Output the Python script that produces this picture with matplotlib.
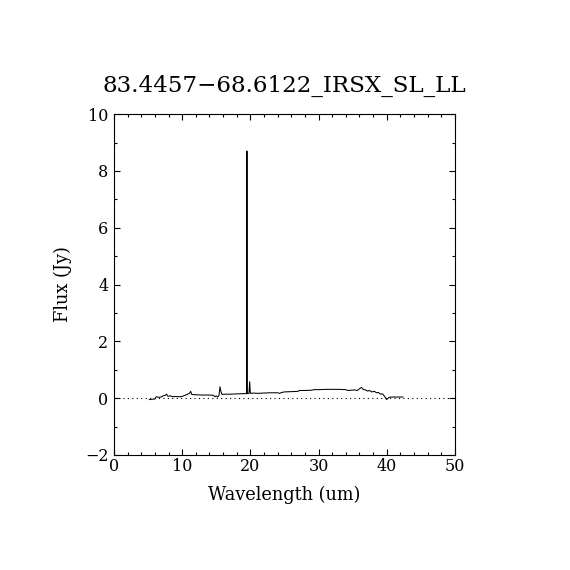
import matplotlib
matplotlib.use('Agg')
import matplotlib.pyplot as plt
from matplotlib.ticker import MultipleLocator

# Spectrum (wavelength in um, flux in Jy)
wavelength = [5.18, 5.5, 6.0, 6.2, 6.5, 6.9, 7.2, 7.5, 7.7, 7.9, 8.3, 8.6,
              9.0, 9.5, 10.0, 10.4, 10.8, 11.05, 11.25, 11.4, 12.0, 13.0,
              14.0, 14.6, 14.8, 15.0, 15.2, 15.4, 15.55, 15.7, 15.85, 16.2,
              17.0, 18.0, 19.0, 19.48, 19.5, 19.52, 19.8, 19.9, 20.0, 20.5,
              21.0, 22.0, 23.0, 24.0, 24.3, 24.6, 25.0, 26.0, 27.0, 27.2,
              28.0, 29.0, 29.3, 30.0, 31.0, 32.0, 33.0, 34.0, 34.3, 34.8,
              35.3, 35.7, 36.0, 36.3, 36.6, 36.9, 37.2, 37.5, 37.8, 38.2,
              38.5, 38.8, 39.1, 39.4, 39.7, 40.0, 40.3, 40.6, 41.5, 42.4]
flux = [-0.05, -0.04, -0.03, 0.05, 0.03, 0.04, 0.08, 0.10, 0.14, 0.07, 0.08, 0.05,
        0.06, 0.05, 0.06, 0.10, 0.14, 0.17, 0.24, 0.13, 0.12, 0.11,
        0.11, 0.10, 0.05, 0.08, 0.04, 0.10, 0.40, 0.22, 0.13, 0.14,
        0.14, 0.15, 0.16, 0.16, 8.70, 0.16, 0.17, 0.58, 0.17, 0.18,
        0.17, 0.18, 0.19, 0.19, 0.17, 0.20, 0.22, 0.23, 0.24, 0.27,
        0.27, 0.28, 0.30, 0.30, 0.31, 0.31, 0.31, 0.30, 0.27, 0.28,
        0.29, 0.27, 0.33, 0.38, 0.30, 0.29, 0.25, 0.27, 0.22, 0.24,
        0.19, 0.20, 0.14, 0.15, 0.06, -0.05, 0.02, 0.04, 0.04, 0.04]

title = '83.4457\u221268.6122_IRSX_SL_LL'
xlim = (0, 50)
ylim = (-2, 10)

plt.rcParams['font.family'] = ['DejaVu Serif']

fig = plt.figure(figsize=(5.7, 5.7), dpi=100)
ax = fig.add_axes([0.2, 0.2018, 0.598, 0.598])

ax.axhline(0, color='black', lw=0.8, ls=(0, (1, 3)))
ax.plot(wavelength, flux, color='black', lw=0.75)

ax.set_xlim(*xlim)
ax.set_ylim(*ylim)
ax.xaxis.set_major_locator(MultipleLocator(10))
ax.xaxis.set_minor_locator(MultipleLocator(2))
ax.yaxis.set_major_locator(MultipleLocator(2))
ax.yaxis.set_minor_locator(MultipleLocator(1))
ax.tick_params(which='both', direction='in', top=True, right=True,
               width=0.8, labelsize=11.5)
ax.tick_params(which='major', length=4.5)
ax.tick_params(which='minor', length=2.3)
ax.tick_params(axis='x', pad=2)
ax.tick_params(axis='y', pad=4)
for s in ax.spines.values():
    s.set_linewidth(0.8)

ax.set_xlabel('Wavelength (um)', fontsize=12.8, labelpad=8)
ax.set_ylabel('Flux (Jy)', fontsize=12.8, labelpad=9)
ax.set_title(title, fontsize=16.6, pad=16)

fig.savefig('out.png', dpi=100)
